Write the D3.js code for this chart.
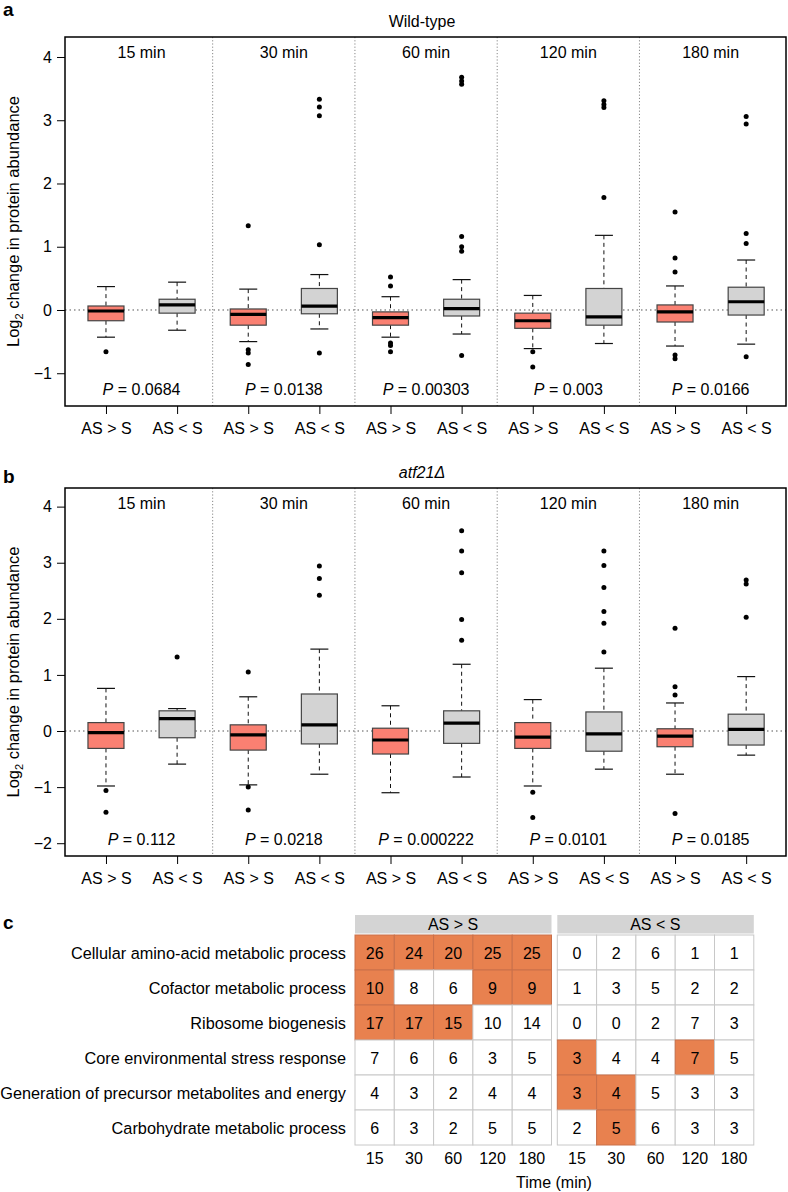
<!DOCTYPE html>
<html>
<head>
<meta charset="utf-8">
<script src="https://cdn.jsdelivr.net/npm/d3@7"></script>
<style>
    body { margin: 0; background: #fff; }
    svg { font-family: "Liberation Sans", Arial, Helvetica, sans-serif; }
    .axis path.domain { display: none; }
    .axis text { font-size: 16px; fill: #000; }
    .axis line { stroke: #000; }
</style>
</head>
<body>
<svg id="chart" width="788" height="1192"></svg>
<script>
// ---- data ----
const times = ['15 min', '30 min', '60 min', '120 min', '180 min'];
const groups = ['AS > S', 'AS < S', 'AS > S', 'AS < S', 'AS > S', 'AS < S', 'AS > S', 'AS < S', 'AS > S', 'AS < S'];

// wild-type boxes (lower whisker, q1, median, q3, upper whisker)
const wtLower  = [-0.43, -0.32, -0.50, -0.30, -0.43, -0.38, -0.61, -0.53, -0.57, -0.54];
const wtQ1     = [-0.17, -0.05, -0.24, -0.06, -0.24, -0.095, -0.29, -0.24, -0.19, -0.08];
const wtMedian = [-0.016, 0.08, -0.07, 0.06, -0.12, 0.02, -0.17, -0.11, -0.03, 0.13];
const wtQ3     = [0.063, 0.17, 0.016, 0.34, -0.03, 0.17, -0.05, 0.34, 0.08, 0.36];
const wtUpper  = [0.37, 0.44, 0.33, 0.56, 0.21, 0.48, 0.23, 1.18, 0.38, 0.79];
const wtOutliers = [
    [-0.66], [],
    [1.33, -0.63, -0.68, -0.86], [3.33, 3.21, 3.07, 1.03, -0.68],
    [0.52, 0.38, -0.52, -0.56, -0.66], [3.68, 3.62, 3.57, 1.16, 1.0, 0.93, -0.72],
    [-0.66, -0.90], [3.31, 3.25, 3.2, 1.78],
    [1.55, 0.82, 0.6, -0.71, -0.77], [3.06, 2.94, 1.21, 1.05, -0.74]
];
const wtP = ['0.0684', '0.0138', '0.00303', '0.003', '0.0166'];

// atf21 deletion boxes
const atfLower  = [-0.98, -0.59, -0.96, -0.77, -1.10, -0.82, -0.98, -0.68, -0.77, -0.43];
const atfQ1     = [-0.31, -0.12, -0.34, -0.23, -0.41, -0.22, -0.31, -0.36, -0.28, -0.25];
const atfMedian = [-0.03, 0.22, -0.07, 0.11, -0.16, 0.14, -0.11, -0.05, -0.09, 0.03];
const atfQ3     = [0.15, 0.36, 0.11, 0.66, 0.05, 0.36, 0.15, 0.34, 0.04, 0.30];
const atfUpper  = [0.76, 0.40, 0.61, 1.46, 0.45, 1.19, 0.56, 1.12, 0.50, 0.97];
const atfOutliers = [
    [-1.06, -1.45], [1.32],
    [1.05, -1.0, -1.41], [2.94, 2.72, 2.42],
    [], [3.57, 3.21, 2.82, 1.99, 1.62],
    [-1.09, -1.54], [3.21, 2.95, 2.56, 2.13, 1.92, 1.41],
    [1.83, 0.79, 0.64, -1.47], [2.69, 2.62, 2.03]
];
const atfP = ['0.112', '0.0218', '0.000222', '0.0101', '0.0185'];

// GO table
const processes = [
    'Cellular amino-acid metabolic process',
    'Cofactor metabolic process',
    'Ribosome biogenesis',
    'Core environmental stress response',
    'Generation of precursor metabolites and energy',
    'Carbohydrate metabolic process'
];
const timeTicks = ['15', '30', '60', '120', '180'];
const upCounts = [[26, 24, 20, 25, 25], [10, 8, 6, 9, 9], [17, 17, 15, 10, 14], [7, 6, 6, 3, 5], [4, 3, 2, 4, 4], [6, 3, 2, 5, 5]];
const upSig    = [[1, 1, 1, 1, 1], [1, 0, 0, 1, 1], [1, 1, 1, 0, 0], [0, 0, 0, 0, 0], [0, 0, 0, 0, 0], [0, 0, 0, 0, 0]];
const downCounts = [[0, 2, 6, 1, 1], [1, 3, 5, 2, 2], [0, 0, 2, 7, 3], [3, 4, 4, 7, 5], [3, 4, 5, 3, 3], [2, 5, 6, 3, 3]];
const downSig    = [[0, 0, 0, 0, 0], [0, 0, 0, 0, 0], [0, 0, 0, 0, 0], [1, 0, 0, 1, 0], [1, 1, 0, 0, 0], [0, 1, 0, 0, 0]];

const svg = d3.select('#chart');

class BoxPanel {
    constructor(_config, _data) {
        this.config = {
            top: _config.top,
            bottom: _config.bottom,
            left: 65,
            right: 786,
            yDomain: _config.yDomain,
            yTicks: _config.yTicks,
            title: _config.title,
            italicTitle: _config.italicTitle,
            letter: _config.letter,
            letterY: _config.letterY,
            boxWidth: 36
        };
        this.data = _data;
        this.initVis();
    }

    initVis() {
        let vis = this;
        const c = vis.config;

        vis.xScale = d3.scaleLinear()
            .domain([0.424, 10.56])
            .range([c.left, c.right]);

        vis.yScale = d3.scaleLinear()
            .domain(c.yDomain)
            .range([c.bottom, c.top]);

        vis.g = svg.append('g');

        vis.g.append('text')
            .attr('x', 3)
            .attr('y', c.letterY)
            .attr('font-size', 19)
            .attr('font-weight', 'bold')
            .text(c.letter);

        vis.g.append('text')
            .attr('x', 422)
            .attr('y', c.top - 10)
            .attr('text-anchor', 'middle')
            .attr('font-size', 16)
            .attr('font-style', c.italicTitle ? 'italic' : 'normal')
            .text(c.title);

        vis.renderVis();
    }

    renderVis() {
        let vis = this;
        const c = vis.config;
        const d = vis.data;
        const hw = c.boxWidth / 2;

        // facet separators
        vis.g.selectAll('.sep')
            .data([2.5, 4.5, 6.5, 8.5])
            .join('line')
            .attr('x1', v => vis.xScale(v))
            .attr('x2', v => vis.xScale(v))
            .attr('y1', c.top)
            .attr('y2', c.bottom)
            .attr('stroke', '#888')
            .attr('stroke-dasharray', '1.2,2');

        // zero line
        vis.g.append('line')
            .attr('x1', c.left)
            .attr('x2', c.right)
            .attr('y1', vis.yScale(0))
            .attr('y2', vis.yScale(0))
            .attr('stroke', '#555')
            .attr('stroke-dasharray', '1.5,3');

        vis.g.selectAll('.facet')
            .data(times)
            .join('text')
            .attr('x', (t, i) => vis.xScale(i * 2 + 1.5))
            .attr('y', c.top + 21)
            .attr('text-anchor', 'middle')
            .attr('font-size', 16)
            .text(t => t);

        const pText = vis.g.selectAll('.pval')
            .data(d.p)
            .join('text')
            .attr('x', (t, i) => vis.xScale(i * 2 + 1.5))
            .attr('y', c.bottom - 11)
            .attr('text-anchor', 'middle')
            .attr('font-size', 16);
        pText.append('tspan').attr('font-style', 'italic').text('P');
        pText.append('tspan').text(t => ' = ' + t);

        const idx = d3.range(10);
        const box = vis.g.selectAll('.box')
            .data(idx)
            .join('g')
            .attr('transform', i => `translate(${vis.xScale(i + 1)},0)`);

        // whiskers
        box.append('line')
            .attr('y1', i => vis.yScale(d.upper[i]))
            .attr('y2', i => vis.yScale(d.q3[i]))
            .attr('stroke', '#111')
            .attr('stroke-dasharray', '4,3.5');
        box.append('line')
            .attr('y1', i => vis.yScale(d.q1[i]))
            .attr('y2', i => vis.yScale(d.lower[i]))
            .attr('stroke', '#111')
            .attr('stroke-dasharray', '4,3.5');
        box.append('line')
            .attr('x1', -hw / 2).attr('x2', hw / 2)
            .attr('y1', i => vis.yScale(d.upper[i]))
            .attr('y2', i => vis.yScale(d.upper[i]))
            .attr('stroke', '#111')
            .attr('stroke-width', 1.2);
        box.append('line')
            .attr('x1', -hw / 2).attr('x2', hw / 2)
            .attr('y1', i => vis.yScale(d.lower[i]))
            .attr('y2', i => vis.yScale(d.lower[i]))
            .attr('stroke', '#111')
            .attr('stroke-width', 1.2);

        box.append('rect')
            .attr('x', -hw)
            .attr('width', c.boxWidth)
            .attr('y', i => vis.yScale(d.q3[i]))
            .attr('height', i => vis.yScale(d.q1[i]) - vis.yScale(d.q3[i]))
            .attr('fill', i => i % 2 === 0 ? '#fa8072' : '#d3d3d3')
            .attr('stroke', '#444')
            .attr('stroke-width', 1.2);

        box.append('line')
            .attr('x1', -hw).attr('x2', hw)
            .attr('y1', i => vis.yScale(d.median[i]))
            .attr('y2', i => vis.yScale(d.median[i]))
            .attr('stroke', '#000')
            .attr('stroke-width', 3.2);

        box.selectAll('circle')
            .data(i => d.outliers[i])
            .join('circle')
            .attr('cy', v => vis.yScale(v))
            .attr('r', 2.5)
            .attr('fill', '#000');

        // axes
        vis.yAxis = d3.axisLeft(vis.yScale)
            .tickValues(c.yTicks)
            .tickSize(8)
            .tickPadding(5)
            .tickFormat(d3.format('d'));
        vis.g.append('g')
            .attr('class', 'axis y-axis')
            .attr('transform', `translate(${c.left},0)`)
            .call(vis.yAxis);

        vis.xAxis = d3.axisBottom(vis.xScale)
            .tickValues(d3.range(1, 11))
            .tickSize(8)
            .tickPadding(9)
            .tickFormat(v => groups[v - 1]);
        vis.g.append('g')
            .attr('class', 'axis x-axis')
            .attr('transform', `translate(0,${c.bottom})`)
            .call(vis.xAxis);

        vis.g.append('text')
            .attr('transform', `translate(19,${(c.top + c.bottom) / 2}) rotate(-90)`)
            .attr('text-anchor', 'middle')
            .attr('font-size', 16.5)
            .call(t => {
                t.append('tspan').text('Log');
                t.append('tspan').attr('font-size', 11).attr('dy', 4).text('2');
                t.append('tspan').attr('dy', -4).text(' change in protein abundance');
            });

        // plot frame
        vis.g.append('rect')
            .attr('x', c.left)
            .attr('y', c.top)
            .attr('width', c.right - c.left)
            .attr('height', c.bottom - c.top)
            .attr('fill', 'none')
            .attr('stroke', '#000')
            .attr('stroke-width', 1.5);
    }
}

new BoxPanel({ top: 37, bottom: 406, yDomain: [-1.518, 4.316], yTicks: [-1, 0, 1, 2, 3, 4], title: 'Wild-type', italicTitle: false, letter: 'a', letterY: 16 },
    { lower: wtLower, q1: wtQ1, median: wtMedian, q3: wtQ3, upper: wtUpper, outliers: wtOutliers, p: wtP });

new BoxPanel({ top: 488, bottom: 856, yDomain: [-2.228, 4.332], yTicks: [-2, -1, 0, 1, 2, 3, 4], title: 'atf21\u0394', italicTitle: true, letter: 'b', letterY: 483 },
    { lower: atfLower, q1: atfQ1, median: atfMedian, q3: atfQ3, upper: atfUpper, outliers: atfOutliers, p: atfP });

// ---- panel c: enrichment table ----
const tbl = svg.append('g');
const orange = '#e8814f';

tbl.append('text')
    .attr('x', 3)
    .attr('y', 929)
    .attr('font-size', 19)
    .attr('font-weight', 'bold')
    .text('c');

const rowScale = d3.scaleBand()
    .domain(processes)
    .range([935, 1145]);

const blocks = [
    { label: 'AS > S', left: 355, counts: upCounts, sig: upSig },
    { label: 'AS < S', left: 557.3, counts: downCounts, sig: downSig }
];

blocks.forEach(b => {
    const colScale = d3.scaleBand()
        .domain(timeTicks)
        .range([b.left, b.left + 196.5]);

    tbl.append('rect')
        .attr('x', b.left)
        .attr('y', 915)
        .attr('width', 196.5)
        .attr('height', 18.5)
        .attr('fill', '#d4d4d4');
    tbl.append('text')
        .attr('x', b.left + 98)
        .attr('y', 930)
        .attr('text-anchor', 'middle')
        .attr('font-size', 16)
        .text(b.label);

    const cells = [];
    processes.forEach((p, r) => timeTicks.forEach((t, k) => {
        cells.push({ p: p, t: t, v: b.counts[r][k], s: b.sig[r][k] });
    }));

    tbl.selectAll(null)
        .data(cells)
        .join('rect')
        .attr('x', d => colScale(d.t))
        .attr('y', d => rowScale(d.p))
        .attr('width', colScale.bandwidth())
        .attr('height', rowScale.bandwidth())
        .attr('fill', d => d.s ? orange : '#fff')
        .attr('stroke', d => d.s ? '#c9704a' : '#c8c8c8')
        .attr('stroke-width', 1);

    tbl.selectAll(null)
        .data(cells)
        .join('text')
        .attr('x', d => colScale(d.t) + colScale.bandwidth() / 2)
        .attr('y', d => rowScale(d.p) + rowScale.bandwidth() / 2 + 6)
        .attr('text-anchor', 'middle')
        .attr('font-size', 16)
        .text(d => d.v);

    tbl.selectAll(null)
        .data(timeTicks)
        .join('text')
        .attr('x', t => colScale(t) + colScale.bandwidth() / 2)
        .attr('y', 1164)
        .attr('text-anchor', 'middle')
        .attr('font-size', 16)
        .text(t => t);
});

tbl.selectAll('.rowlab')
    .data(processes)
    .join('text')
    .attr('x', 346)
    .attr('y', p => rowScale(p) + rowScale.bandwidth() / 2 + 6)
    .attr('text-anchor', 'end')
    .attr('font-size', 16.3)
    .text(p => p);

tbl.append('text')
    .attr('x', 554)
    .attr('y', 1188)
    .attr('text-anchor', 'middle')
    .attr('font-size', 16)
    .text('Time (min)');
</script>
</body>
</html>
